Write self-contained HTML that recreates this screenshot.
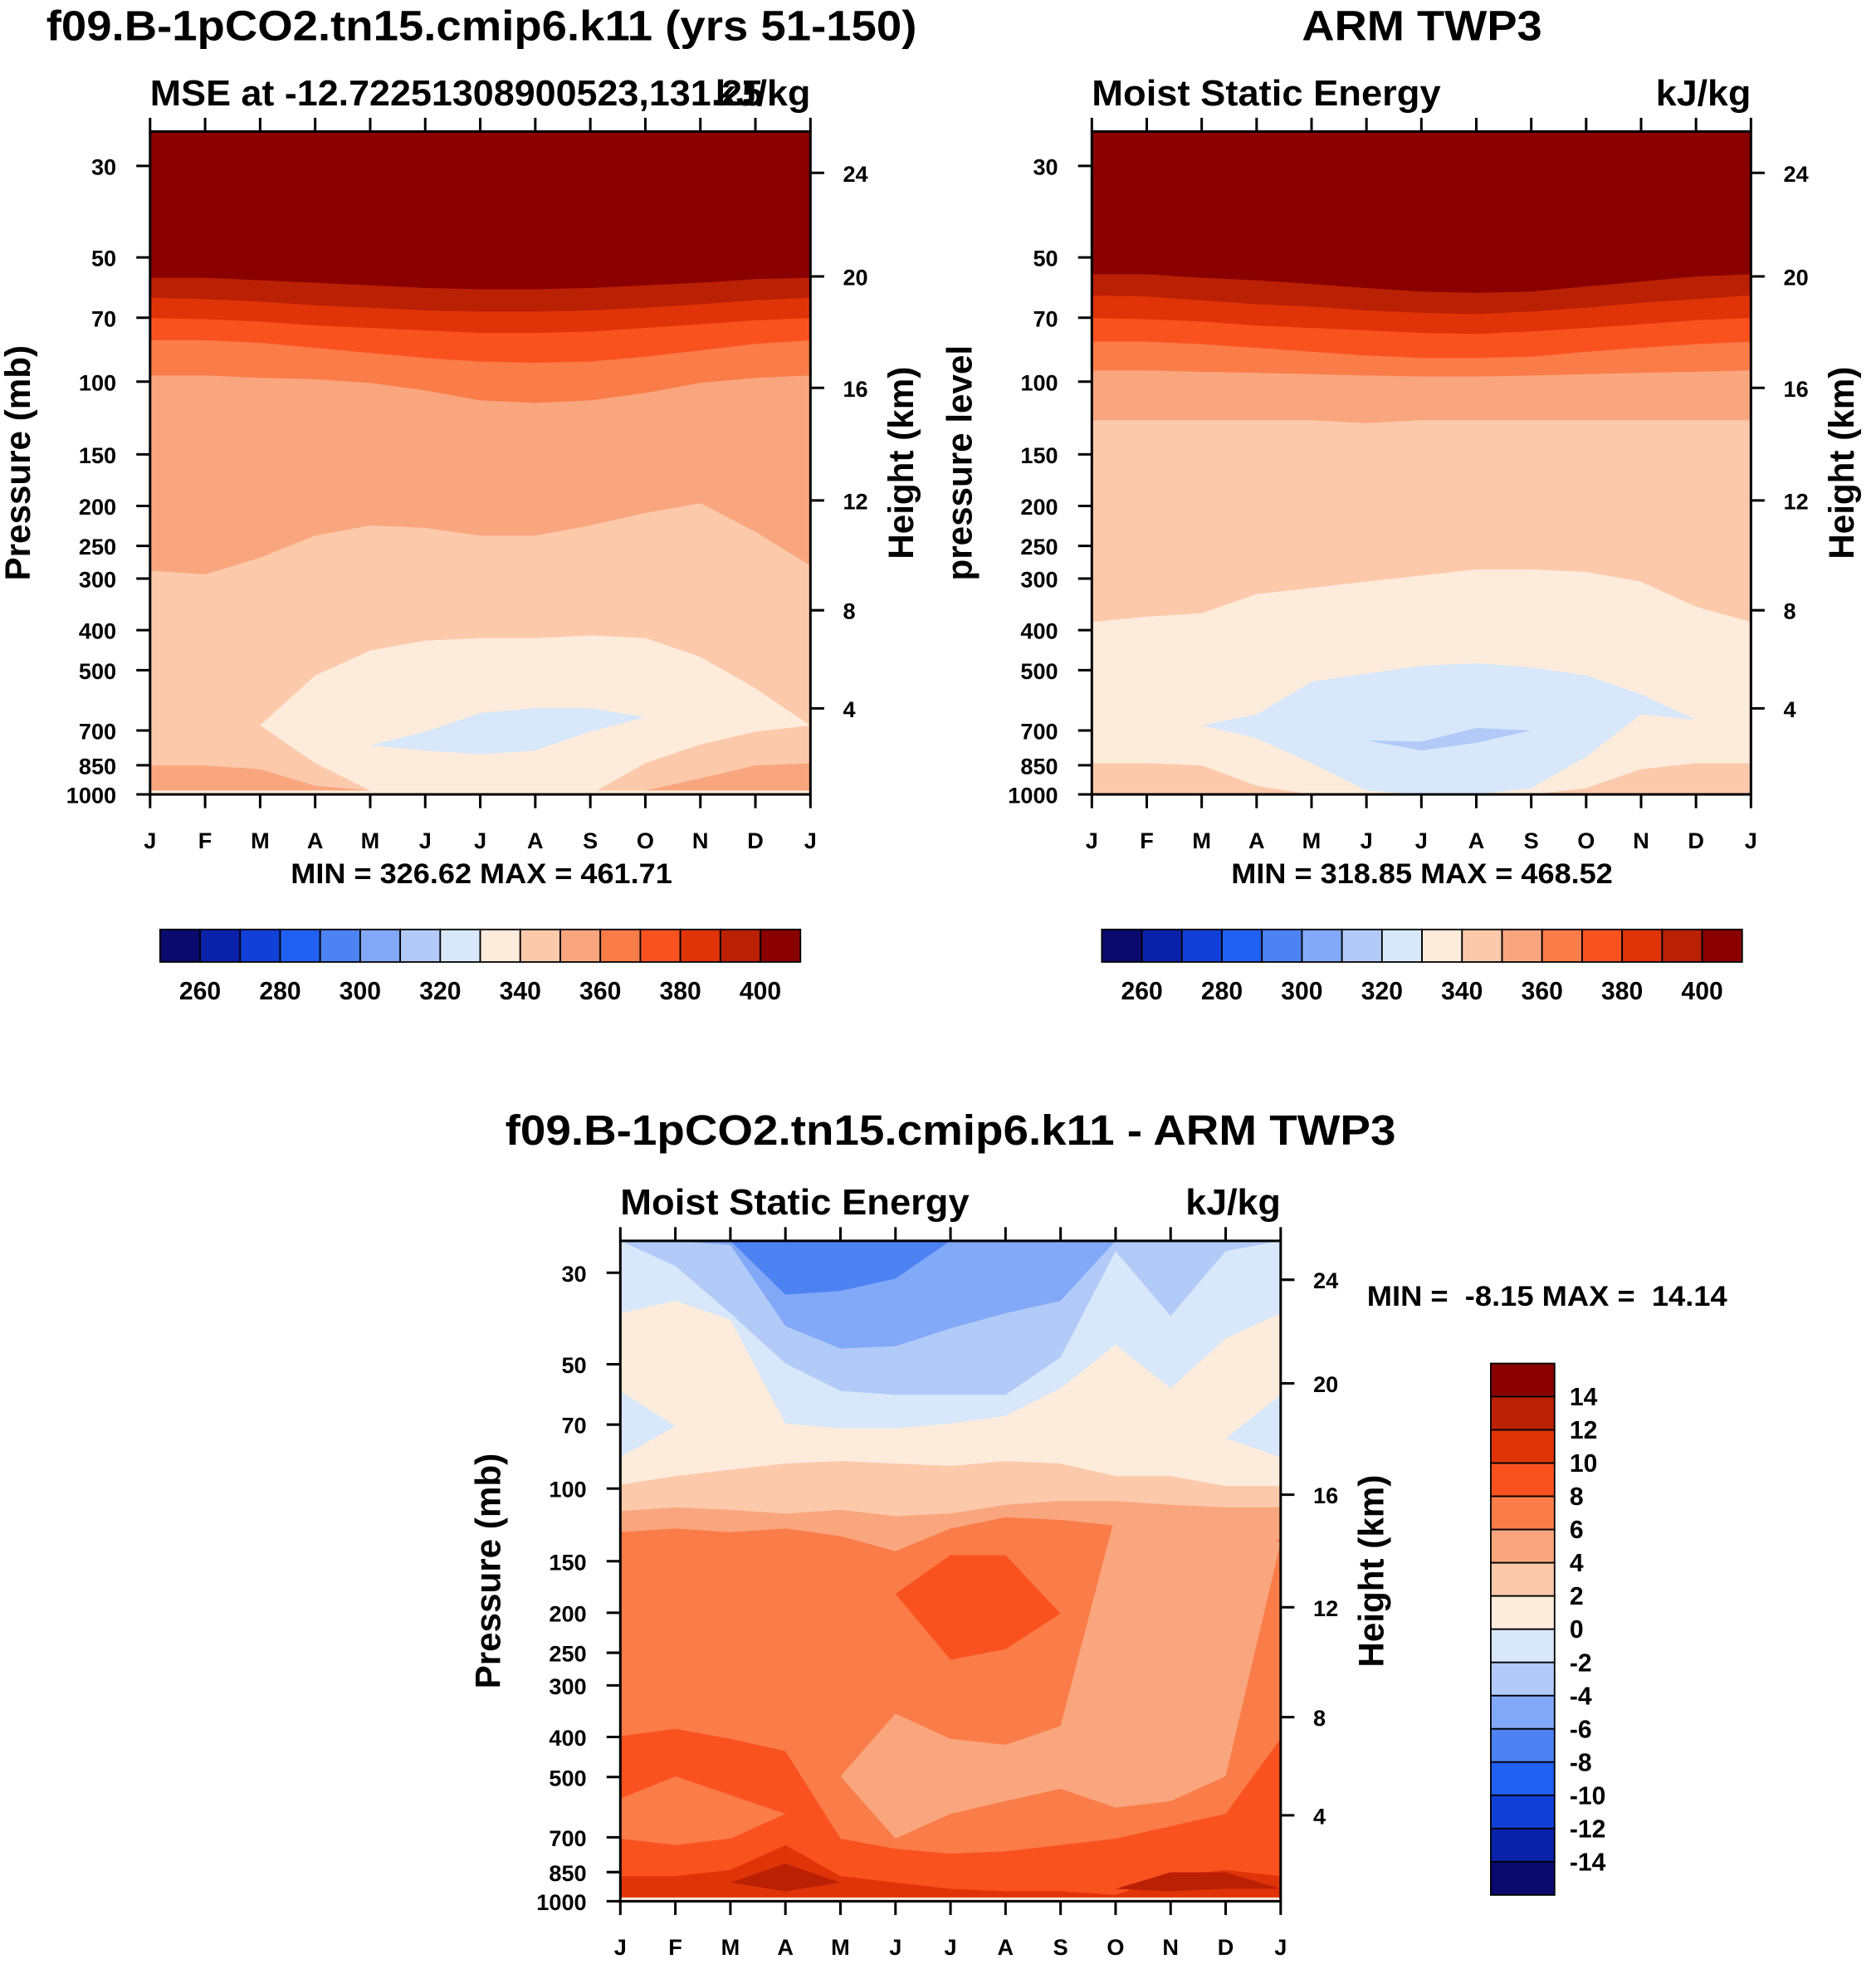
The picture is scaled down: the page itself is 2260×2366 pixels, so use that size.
<!DOCTYPE html>
<html><head><meta charset="utf-8"><style>
html,body{margin:0;padding:0;background:#fff}
svg{display:block}
text{font-family:"Liberation Sans Narrow","Liberation Sans",sans-serif;font-weight:bold;fill:#000;white-space:pre}
</style></head><body>
<svg id="fig" width="2260" height="2366" viewBox="0 0 1500 1570" xmlns="http://www.w3.org/2000/svg">
<g id="layer"></g>
</svg>
<script>
const months=['J','F','M','A','M','J','J','A','S','O','N','D','J'];
const palette=['#0a0a6e','#0a22aa','#1040d8','#2060f2','#4c82f2','#82a8f8','#b2caf8','#d8e8fa','#fdebdb','#fcc9ab','#f9a67e','#fa7c48','#fa521f','#e03408','#ba2004','#8a0000'];
const pressureTicks=[30,50,70,100,150,200,250,300,400,500,700,850,1000];
const heightTicks=[4,8,12,16,20,24];
const heightTickPressure=[619,358,194,103.5,55.6,31.2];
const mseLabels=[260,280,300,320,340,360,380,400];
const diffLabels=[14,12,10,8,6,4,2,0,-2,-4,-6,-8,-10,-12,-14];

// ---- top-left (model) contour boundaries, pressure (mb) per month ----
const tl14=[56,56,56.8,57.6,58.4,59.3,59.7,59.7,59.3,58.4,57.6,56.4,56];
const tl13=[62.6,63.1,64,65.3,66.2,67.2,67.6,67.6,67.2,66.2,64.9,63.5,62.6];
const tl12=[70.1,70.6,71.5,73.1,74.1,75.1,76.2,76.2,75.6,74.1,72.6,71,70.1];
const tl11=[79.4,79.4,80.5,82.8,85.2,87.6,89.4,90,89.4,87,84,81,79.4];
const tl10=[96.6,96.6,97.9,98.6,100.7,105,111,112.6,111,106.5,100.7,97.9,96.6];
const tl9=[287,293,267,236,223,226,236,236,223,208,197,231,279];
const tl8Top=[680,680,680,515,448,424,418,418,412,418,464,553,681];
const tl8Bot=[680,680,680,840,979,1000,1000,1000,1000,840,757,705,681];
const tl7Top=[760,760,760,760,760,705,635,618,618,650,650,650,650];
const tl7Bot=[760,760,760,760,760,783,800,783,705,650,650,650,650];
const tlSfcTop=[851,851,869,953,979,979,979,979,979,979,914,851,840];
const tlSfcBot=[979,979,979,979,979,979,979,979,979,979,979,979,979];

// ---- top-right (ARM) ----
const tr14=[54.9,54.9,56,56.8,58,59.3,60.5,60.9,60.5,58.8,57.2,55.6,54.9];
const tr13=[61.8,62.2,63.5,64.9,65.8,67.2,68.1,68.6,67.6,66.2,64.4,63.1,61.8];
const tr12=[70.1,70.6,71.5,73.1,74.1,75.1,76.2,76.6,75.6,74.1,72.6,71,70.1];
const tr11=[80,80,81.1,82.8,84.6,86.4,87.6,87.6,87,84.6,82.8,81.1,80];
const tr10=[93.9,93.9,94.6,95.2,95.9,96.6,97.2,97.2,96.6,95.9,95.2,94.6,93.9];
const tr9=[124,124,124,124,124,126,124,124,124,124,124,124,124];
const tr8=[382,371,364,327,316,305,295,285,285,289,305,351,382];
const tr7Top=[680,680,680,640,533,510,488,481,492,515,572,660,660];
const tr7Bot=[680,680,680,731,840,979,1000,1000,966,811,640,660,660];
const tr6Top=[740,740,740,740,740,740,745,690,700,700,700,700,700];
const tr6Bot=[740,740,740,740,740,740,783,750,700,700,700,700,700];
const trSfcTop=[840,840,851,953,1000,1000,1000,1000,1000,966,869,840,840];

// ---- bottom (difference) ----
const dfM2Bot=[25.1,28.9,37.6,49.8,58,59.3,59.3,59.3,48.1,26.6,38.2,26.6,25.1];
const dfM4Bot=[25.1,25.1,25.7,40.4,45.8,45.2,40.9,37.6,35.1,25.1,25.1,25.1,25.1];
const dfM6Bot=[25.1,25.1,25.1,33.9,33.2,31.0,25.1,25.1,25.1,25.1,25.1,25.1,25.1];
const df0Top=[37.6,35.1,39,69.6,71.5,71.5,69.6,66.7,57.2,44.8,57.2,43.3,37.6];
const dfWedgeLTop=[58,70.6,70.6,70.6,70.6,70.6,70.6,70.6,70.6,70.6,70.6,70.6,70.6];
const dfWedgeLBot=[84,70.6,70.6,70.6,70.6,70.6,70.6,70.6,70.6,70.6,70.6,70.6,70.6];
const dfWedgeRTop=[75.6,75.6,75.6,75.6,75.6,75.6,75.6,75.6,75.6,75.6,75.6,75.6,59.3];
const dfWedgeRBot=[75.6,75.6,75.6,75.6,75.6,75.6,75.6,75.6,75.6,75.6,75.6,75.6,84];
const df2Top=[97.9,93.3,90,87,85.8,87,88.2,85.8,87,93.3,93.3,98.6,98.6];
const df4Top=[113.4,111.1,112.6,115,112.6,116.6,115,109.5,107.2,107.2,109.5,111.1,111.1];
const df6Top=[127.6,125,127.6,125,130.4,141.8,125,117.4,119.1,123,136.8,152,132.2];
const df8BlobTop=[180,180,180,180,180,180,145,145,200.9,200.9,200.9,200.9,200.9];
const df8BlobBot=[180,180,180,180,180,180,260,245,200.9,200.9,200.9,200.9,200.9];
const df8LowTop=[398,382,404,433,705,746,767,757,731,705,658,614,404];
const df4RTop=[433,433,433,433,433,433,433,433,376,115,121.6,123,135];
const df4RBot=[433,433,433,433,433,433,433,433,534,593,572,498,135];
const df4MTop=[498,498,498,498,498,351,404,418,376,534,534,534,534];
const df4MBot=[498,498,498,498,498,705,614,572,534,534,534,534,534];
const df6LTop=[564,498,553,614,614,614,614,614,614,614,614,614,614];
const df6LBot=[705,731,705,614,614,614,614,614,614,614,614,614,614];
const df10Top=[869,869,840,731,869,901,933,946,946,966,869,840,869];
const df10Bot=[979,979,979,979,979,979,979,979,979,979,979,979,979];
const df12Top=[901,901,901,811,901,901,901,901,901,933,851,851,933];
const df12Bot=[901,901,901,946,901,901,901,901,901,933,946,933,933];

const NS='http://www.w3.org/2000/svg';
const layer=document.getElementById('layer');
function mk(tag,attrs,parent){const e=document.createElementNS(NS,tag);for(const k in attrs)e.setAttribute(k,attrs[k]);(parent||layer).appendChild(e);return e;}
function txt(s,x,y,size,anchor,parent,extra){const t=mk('text',Object.assign({x:x,y:y,'font-size':size,'text-anchor':anchor||'start'},extra||{}),parent);t.textContent=s;return t;}

function panel(P){
  const g=mk('g',{});
  
  
  const yS=p=>P.y100+330*Math.log10(p/100);
  const xS=i=>P.x0+i*(P.x1-P.x0)/12;
  const yTop=P.y100-P.topOff, yBot=yS(1000);
  const cid='clip-'+P.name;
  const cp=mk('clipPath',{id:cid},g);
  mk('rect',{x:P.x0,y:yTop,width:P.x1-P.x0,height:yBot-yTop},cp);
  const cg=mk('g',{'clip-path':'url(#'+cid+')'},g);
  const bg=mk('rect',{x:P.x0,y:yTop,width:P.x1-P.x0,height:yBot-yTop,fill:palette[P.base]},cg);
  
  
  P.regions.forEach((r,k)=>{
    const top=r[1], bot=r[2];
    let pts=[];
    for(let i=0;i<13;i++)pts.push(xS(i)+','+(top?yS(top[i]):yTop-2));
    for(let i=12;i>=0;i--)pts.push(xS(i)+','+(bot?yS(bot[i]):yBot+2));
    const pg=mk('polygon',{points:pts.join(' '),fill:palette[r[0]]},cg);
    
    
  });
  const fr=mk('rect',{x:P.x0,y:yTop,width:P.x1-P.x0,height:yBot-yTop,fill:'none',stroke:'#000','stroke-width':2},g);
  
  
  months.forEach((m,i)=>{
    const x=xS(i);
    mk('line',{x1:x,x2:x,y1:yTop,y2:yTop-11,stroke:'#000','stroke-width':2},g);
    mk('line',{x1:x,x2:x,y1:yBot,y2:yBot+11,stroke:'#000','stroke-width':2},g);
    const t=txt(m,x,yBot+43,18,'middle',g);
    
    
  });
  pressureTicks.forEach(p=>{
    const y=yS(p);
    mk('line',{x1:P.x0,x2:P.x0-11,y1:y,y2:y,stroke:'#000','stroke-width':2},g);
    const t=txt(String(p),P.x0-27,y+7,18,'end',g);
    
    
  });
  heightTicks.forEach((h,i)=>{
    const y=yS(heightTickPressure[i]);
    mk('line',{x1:P.x1,x2:P.x1+11,y1:y,y2:y,stroke:'#000','stroke-width':2},g);
    const t=txt(String(h),P.x1+26,y+7,18,'start',g);
    
    
  });
  const ly=(yTop+yBot)/2;
  const yl=txt(P.ylab,0,0,28,'middle',g,{transform:'translate('+P.ylabX+','+ly+') rotate(-90)'});
  
  
  const yr=txt('Height (km)',0,0,28,'middle',g,{transform:'translate('+(P.x1+82)+','+ly+') rotate(-90)'});
  
  
  const st=txt(P.sub,P.x0,yTop-21,29,'start',g,{textLength:P.subLen,lengthAdjust:'spacingAndGlyphs'});
  
  
  const un=txt('kJ/kg',P.x1,yTop-21,29,'end',g,{textLength:76,lengthAdjust:'spacingAndGlyphs'});
  
  
  const ti=txt(P.title,P.titleX,P.titleY,34,'middle',g,{textLength:P.titleLen,lengthAdjust:'spacingAndGlyphs'});
  
  
}

function hbar(x0,y0,name){
  const g=mk('g',{});
  
  
  palette.forEach((c,i)=>{
    const r=mk('rect',{x:x0+i*32,y:y0,width:32,height:26,fill:c,stroke:'#000','stroke-width':1.2},g);
    
    
  });
  mseLabels.forEach((v,k)=>{
    const t=txt(String(v),x0+32+k*64,y0+56,20,'middle',g);
    
    
  });
}

panel({name:'model-panel',x0:120,x1:648,y100:305,topOff:200,base:15,
  regions:[[14,tl14,null],[13,tl13,null],[12,tl12,null],[11,tl11,null],[10,tl10,null],[9,tl9,null],[8,tl8Top,tl8Bot],[7,tl7Top,tl7Bot],[10,tlSfcTop,tlSfcBot],[8,tlSfcBot,null]],
  ylab:'Pressure (mb)',ylabX:24,sub:'MSE at -12.72251308900523,131.25',subLen:490,title:'f09.B-1pCO2.tn15.cmip6.k11 (yrs 51-150)',titleX:385,titleY:32,titleLen:696});
panel({name:'obs-panel',x0:873,x1:1400,y100:305,topOff:200,base:15,
  regions:[[14,tr14,null],[13,tr13,null],[12,tr12,null],[11,tr11,null],[10,tr10,null],[9,tr9,null],[8,tr8,null],[7,tr7Top,tr7Bot],[6,tr6Top,tr6Bot],[9,trSfcTop,null]],
  ylab:'pressure level',ylabX:777,sub:'Moist Static Energy',subLen:279,title:'ARM TWP3',titleX:1137,titleY:32,titleLen:192});
panel({name:'difference-panel',x0:496,x1:1024,y100:1190,topOff:198,base:7,
  regions:[[6,null,dfM2Bot],[5,null,dfM4Bot],[4,null,dfM6Bot],[8,df0Top,null],[7,dfWedgeLTop,dfWedgeLBot],[7,dfWedgeRTop,dfWedgeRBot],[9,df2Top,null],[10,df4Top,null],[11,df6Top,null],[12,df8BlobTop,df8BlobBot],[12,df8LowTop,null],[10,df4RTop,df4RBot],[10,df4MTop,df4MBot],[11,df6LTop,df6LBot],[13,df10Top,df10Bot],[14,df12Top,df12Bot],[8,df10Bot,null]],
  ylab:'Pressure (mb)',ylabX:400,sub:'Moist Static Energy',subLen:279,title:'f09.B-1pCO2.tn15.cmip6.k11 - ARM TWP3',titleX:760,titleY:915,titleLen:712});

let t;
t=txt('MIN = 326.62 MAX = 461.71',385,706,23,'middle',null,{textLength:305,lengthAdjust:'spacingAndGlyphs'});


t=txt('MIN = 318.85 MAX = 468.52',1137,706,23,'middle',null,{textLength:305,lengthAdjust:'spacingAndGlyphs'});


t=txt('MIN =  -8.15 MAX =  14.14',1093,1044,23,'start',null,{textLength:288,lengthAdjust:'spacingAndGlyphs'});


hbar(128,743,'model-colorbar');
hbar(881,743,'obs-colorbar');

const vg=mk('g',{});


const bh=(1515-1090)/16;
palette.slice().reverse().forEach((c,i)=>{
  const r=mk('rect',{x:1192,y:1090+i*bh,width:51,height:bh,fill:c,stroke:'#000','stroke-width':1.2},vg);
  
  
});
diffLabels.forEach((v,k)=>{
  const tt=txt(String(v),1255,1090+(k+1)*bh+7,20,'start',vg);
  
  
});
</script>
</body></html>
